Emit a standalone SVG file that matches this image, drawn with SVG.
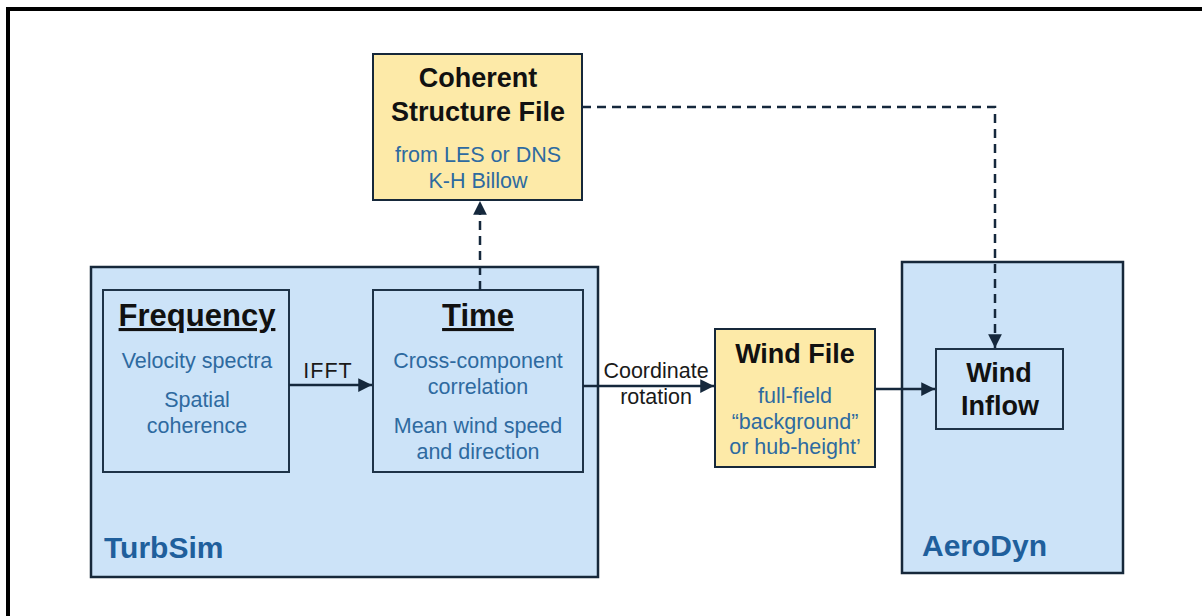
<svg xmlns="http://www.w3.org/2000/svg" width="1202" height="616" viewBox="0 0 1202 616">
<defs>
<style>
.blue{fill:#cce3f8;stroke:#16283a;stroke-width:2.5}
.inner{fill:#cce3f8;stroke:#1e3348;stroke-width:2}
.yel{fill:#fdeaa8;stroke:#16283a;stroke-width:2}
.t{font-family:"Liberation Sans",Arial,sans-serif;text-anchor:middle}
.h{font-weight:bold;fill:#111;font-size:27px}
.hu{font-weight:bold;fill:#111;font-size:31px;text-decoration:underline}
.b{fill:#2e6aa0;font-size:21.5px}
.lbl{font-family:"Liberation Sans",Arial,sans-serif;font-weight:bold;fill:#1f5f9c;font-size:30px}
.k{fill:#1a1a1a;font-size:21.5px}
.line{fill:none;stroke:#15283c;stroke-width:2.5}
.dash{fill:none;stroke:#15283c;stroke-width:2.5;stroke-dasharray:9 6}
</style>
<marker id="ah" viewBox="0 0 10 10" refX="10" refY="5" markerWidth="5.5" markerHeight="5.5" markerUnits="strokeWidth" orient="auto">
<path d="M0,0 L10,5 L0,10 z" fill="#15283c"/>
</marker>
</defs>
<rect x="0" y="0" width="1202" height="616" fill="#ffffff"/>
<rect x="8" y="9" width="1210" height="620" fill="none" stroke="#000" stroke-width="4"/>

<g id="turbsim">
<rect class="blue" x="91" y="267" width="507" height="310"/>
<text class="lbl" x="104" y="558">TurbSim</text>
</g>
<g id="aerodyn">
<rect class="blue" x="902" y="262" width="221" height="311"/>
<text class="lbl" x="922" y="556">AeroDyn</text>
</g>
<g id="coherent">
<rect class="yel" x="373" y="54" width="209" height="146"/>
<text class="t h" x="478" y="87">Coherent</text>
<text class="t h" x="478" y="121">Structure File</text>
<text class="t b" x="478" y="162">from LES or DNS</text>
<text class="t b" x="478" y="188">K-H Billow</text>
</g>
<g id="frequency">
<rect class="inner" x="103" y="290" width="186" height="182"/>
<text class="t hu" x="197" y="326">Frequency</text>
<text class="t b" x="197" y="368">Velocity spectra</text>
<text class="t b" x="197" y="407">Spatial</text>
<text class="t b" x="197" y="433">coherence</text>
</g>
<g id="time">
<rect class="inner" x="373" y="290" width="210" height="182"/>
<text class="t hu" x="478" y="326">Time</text>
<text class="t b" x="478" y="368">Cross-component</text>
<text class="t b" x="478" y="394">correlation</text>
<text class="t b" x="478" y="433">Mean wind speed</text>
<text class="t b" x="478" y="459">and direction</text>
</g>
<g id="windfile">
<rect class="yel" x="715" y="329" width="160" height="138"/>
<text class="t h" x="795" y="363">Wind File</text>
<text class="t b" x="795" y="403">full-field</text>
<text class="t b" x="795" y="429">“background”</text>
<text class="t b" x="795" y="454">or hub-height’</text>
</g>
<g id="windinflow">
<rect class="inner" x="936" y="349" width="127" height="80"/>
<text class="t h" x="999" y="382">Wind</text>
<text class="t h" x="1000" y="415">Inflow</text>
</g>

<g id="connectors">
<line class="line" x1="289" y1="385" x2="372" y2="385" marker-end="url(#ah)"/>
<text class="t k" x="328" y="378" font-size="22" letter-spacing="1">IFFT</text>
<line class="line" x1="583" y1="386" x2="714" y2="386" marker-end="url(#ah)"/>
<text class="t k" x="656" y="378">Coordinate</text>
<text class="t k" x="656" y="404">rotation</text>
<line class="line" x1="875" y1="389" x2="935" y2="389" marker-end="url(#ah)"/>
<line class="dash" x1="480" y1="290" x2="480" y2="201" marker-end="url(#ah)"/>
<polyline class="dash" points="582,107 995,107 995,348" marker-end="url(#ah)"/>
</g>
</svg>
